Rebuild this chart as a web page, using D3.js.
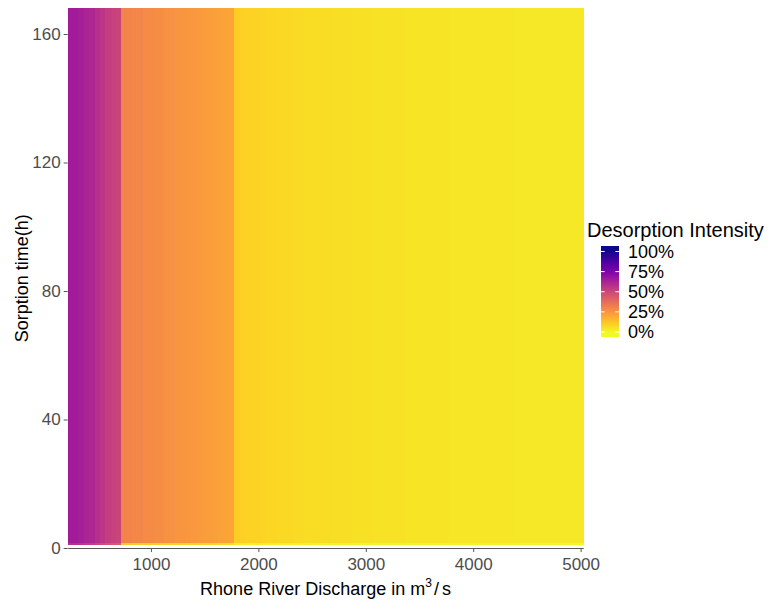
<!DOCTYPE html>
<html>
<head>
<meta charset="utf-8">
<script src="https://cdn.jsdelivr.net/npm/d3@7"></script>
<style>
  html, body { margin: 0; padding: 0; background: #ffffff; }
  svg { display: block; }
  text { font-family: "Liberation Sans", Arial, sans-serif; }
</style>
</head>
<body>
<svg id="chart" width="773" height="602"></svg>
<script>
// ---- data ----
const discharge = [
  250, 300, 350, 400, 450, 500, 550, 600, 650, 700,
  750, 800, 850, 900, 950, 1000, 1050, 1100, 1150, 1200,
  1250, 1300, 1350, 1400, 1450, 1500, 1550, 1600, 1650, 1700, 1750,
  1800, 1850, 1900, 1950, 2000,
  2050, 2100, 2150, 2200, 2250, 2300, 2350, 2400, 2450, 2500,
  2550, 2600, 2650, 2700, 2750, 2800, 2850, 2900, 2950, 3000,
  3050, 3100, 3150, 3200, 3250, 3300, 3350, 3400, 3450, 3500,
  3550, 3600, 3650, 3700, 3750, 3800, 3850, 3900, 3950, 4000,
  4050, 4100, 4150, 4200, 4250, 4300, 4350, 4400, 4450, 4500,
  4550, 4600, 4650, 4700, 4750, 4800, 4850, 4900, 4950, 5000
];
// desorption intensity (fraction) for sorption times 1.6 h .. 168 h
const intensityMain = [
  0.65, 0.65, 0.64, 0.62, 0.61, 0.58, 0.56, 0.53, 0.52, 0.51,
  0.30, 0.30, 0.29, 0.29, 0.28, 0.28, 0.27, 0.27, 0.26, 0.26,
  0.25, 0.25, 0.245, 0.24, 0.235, 0.23, 0.225, 0.22, 0.215, 0.21, 0.205,
  0.10, 0.095, 0.092, 0.09, 0.087,
  0.085, 0.082, 0.08, 0.078, 0.076, 0.075, 0.073, 0.071, 0.07, 0.068,
  0.066, 0.065, 0.064, 0.062, 0.061, 0.06, 0.059, 0.058, 0.057, 0.056,
  0.055, 0.054, 0.054, 0.053, 0.052, 0.052, 0.051, 0.05, 0.05, 0.049,
  0.049, 0.048, 0.048, 0.047, 0.047, 0.046, 0.046, 0.046, 0.045, 0.045,
  0.045, 0.044, 0.044, 0.044, 0.043, 0.043, 0.043, 0.042, 0.042, 0.042,
  0.042, 0.041, 0.041, 0.041, 0.041, 0.04, 0.04, 0.04, 0.04, 0.04
];
// desorption intensity for the shortest sorption time (1 h .. 1.6 h)
const intensityFirst = [
  0.58, 0.58, 0.57, 0.55, 0.54, 0.51, 0.49, 0.46, 0.45, 0.44,
  0.11, 0.11, 0.11, 0.10, 0.10, 0.10, 0.10, 0.09, 0.09, 0.09,
  0.09, 0.09, 0.08, 0.08, 0.08, 0.08, 0.08, 0.08, 0.07, 0.07, 0.07,
  0.02, 0.02, 0.02, 0.02, 0.02,
  0.02, 0.02, 0.02, 0.02, 0.02, 0.02, 0.02, 0.02, 0.02, 0.02,
  0.01, 0.01, 0.01, 0.01, 0.01, 0.01, 0.01, 0.01, 0.01, 0.01,
  0.01, 0.01, 0.01, 0.01, 0.01, 0.01, 0.01, 0.01, 0.01, 0.01,
  0.01, 0.01, 0.01, 0.01, 0.01, 0.01, 0.01, 0.01, 0.01, 0.01,
  0.01, 0.01, 0.01, 0.01, 0.01, 0.01, 0.01, 0.01, 0.01, 0.01,
  0.01, 0.01, 0.01, 0.01, 0.01, 0.01, 0.01, 0.01, 0.01, 0.01
];
const timeBands = [1, 1.6, 168];      // hours: band edges
const xTicks = [1000, 2000, 3000, 4000, 5000];
const yTicks = [0, 40, 80, 120, 160];
const legendBreaks = [0, 0.25, 0.5, 0.75, 1];
const legendLabels = ["0%", "25%", "50%", "75%", "100%"];
const stepWidth = 50;

// ---- layout ----
const svg = d3.select("#chart");
const panel = { left: 67.7, right: 583.3, top: 8.3, bottom: 548 };

const x = d3.scaleLinear().domain([225, 5025]).range([panel.left, panel.right]);
const y = d3.scaleLinear().domain([0, 168]).range([panel.bottom, panel.top]);
const color = v => d3.interpolatePlasma(1 - Math.max(0, Math.min(1, v)));

// ---- heatmap ----
const cells = [];
discharge.forEach((d, i) => {
  cells.push({ d, t0: timeBands[0], t1: timeBands[1], v: intensityFirst[i] });
  cells.push({ d, t0: timeBands[1], t1: timeBands[2], v: intensityMain[i] });
});
svg.append("g").selectAll("rect").data(cells).join("rect")
  .attr("x", c => x(c.d - stepWidth / 2))
  .attr("width", c => x(c.d + stepWidth / 2) - x(c.d - stepWidth / 2) + 0.4)
  .attr("y", c => y(c.t1))
  .attr("height", c => y(c.t0) - y(c.t1))
  .attr("fill", c => color(c.v))
  .attr("shape-rendering", "crispEdges");

// ---- axes ----
const xAxis = svg.append("g")
  .attr("transform", `translate(0,${panel.bottom})`)
  .call(d3.axisBottom(x).tickValues(xTicks).tickFormat(d3.format("d"))
    .tickSize(4).tickPadding(6).tickSizeOuter(0));
const yAxis = svg.append("g")
  .attr("transform", `translate(${panel.left},0)`)
  .call(d3.axisLeft(y).tickValues(yTicks).tickFormat(d3.format("d"))
    .tickSize(4).tickPadding(3).tickSizeOuter(0));
[xAxis, yAxis].forEach(g => {
  g.selectAll("text").attr("fill", "#4d4d4d").style("font-size", "17px");
  g.selectAll(".tick line").attr("stroke", "#555");
});
xAxis.select(".domain").attr("stroke", "#555").attr("stroke-width", 1.2);
yAxis.select(".domain").remove();

// axis titles
const xt = svg.append("text")
  .attr("x", (panel.left + panel.right) / 2)
  .attr("y", 595)
  .attr("text-anchor", "middle")
  .attr("fill", "#000")
  .style("font-size", "18px");
xt.append("tspan").text("Rhone River Discharge in m");
xt.append("tspan").attr("dy", -8).style("font-size", "12px").text("3");
xt.append("tspan").attr("dy", 8).attr("dx", 2).text("/");
xt.append("tspan").attr("dx", 3).text("s");

svg.append("text")
  .attr("transform", `translate(28,${(panel.top + panel.bottom) / 2}) rotate(-90)`)
  .attr("text-anchor", "middle")
  .attr("fill", "#000")
  .style("font-size", "18px")
  .text("Sorption time(h)");

// ---- legend ----
const lg = { x: 601, w: 18, top: 246, bottom: 337 };
const ly = d3.scaleLinear().domain([-0.062, 1.068]).range([lg.bottom, lg.top]);
const defs = svg.append("defs");
const grad = defs.append("linearGradient").attr("id", "lgrad")
  .attr("x1", 0).attr("y1", 1).attr("x2", 0).attr("y2", 0);
const stops = d3.range(0, 1.0001, 0.05);
grad.selectAll("stop").data(stops).join("stop")
  .attr("offset", s => s)
  .attr("stop-color", s => color(ly.domain()[0] + s * (ly.domain()[1] - ly.domain()[0])));
svg.append("rect")
  .attr("x", lg.x).attr("y", lg.top).attr("width", lg.w).attr("height", lg.bottom - lg.top)
  .attr("fill", "url(#lgrad)");
const lt = svg.append("g");
legendBreaks.forEach((b, i) => {
  const yy = ly(b);
  lt.append("line").attr("x1", lg.x).attr("x2", lg.x + 3.6).attr("y1", yy).attr("y2", yy)
    .attr("stroke", "#fff").attr("stroke-width", 1);
  lt.append("line").attr("x1", lg.x + lg.w - 3.6).attr("x2", lg.x + lg.w).attr("y1", yy).attr("y2", yy)
    .attr("stroke", "#fff").attr("stroke-width", 1);
  lt.append("text").attr("x", 628).attr("y", yy).attr("dy", "0.35em")
    .attr("fill", "#000").style("font-size", "18px").text(legendLabels[i]);
});
svg.append("text").attr("x", 587).attr("y", 237)
  .attr("fill", "#000").style("font-size", "20px").text("Desorption Intensity");
</script>
</body>
</html>
